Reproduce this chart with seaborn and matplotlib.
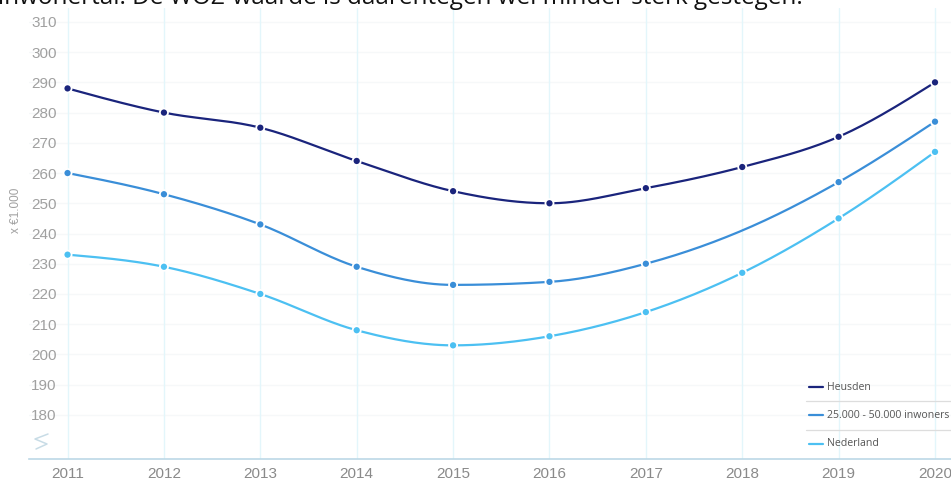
import numpy as np
import pandas as pd
import matplotlib
matplotlib.use("Agg")
import matplotlib.pyplot as plt
from matplotlib.lines import Line2D
import seaborn as sns

# WOZ-waarde (x €1.000) per jaar
years = [2011, 2012, 2013, 2014, 2015, 2016, 2017, 2018, 2019, 2020]
heusden = [288, 280, 275, 264, 254, 250, 255, 262, 272, 290]
klasse_25_50k = [260, 253, 243, 229, 223, 224, 230, 241, 257, 277]
nederland = [233, 229, 220, 208, 203, 206, 214, 227, 245, 267]
# 2018 has no point marker on the size-class series
klasse_markers = [True, True, True, True, True, True, True, False, True, True]

series_names = ["Heusden", "25.000 - 50.000 inwoners", "Nederland"]
series_colors = ["#1a247c", "#3a8ed8", "#4cc0f2"]
y_ticks = [180, 190, 200, 210, 220, 230, 240, 250, 260, 270, 280, 290, 300, 310]
header = "inwonertal. De WOZ-waarde is daarentegen wel minder sterk gestegen."


def monotone_curve(x, y, n=30):
    """Monotone cubic (Steffen) interpolation, like d3.curveMonotoneX."""
    x = np.asarray(x, float)
    y = np.asarray(y, float)
    h = np.diff(x)
    s = np.diff(y) / h
    t = np.zeros_like(y)
    for i in range(1, len(x) - 1):
        p = (s[i - 1] * h[i] + s[i] * h[i - 1]) / (h[i - 1] + h[i])
        t[i] = (np.sign(s[i - 1]) + np.sign(s[i])) * min(abs(s[i - 1]), abs(s[i]), 0.5 * abs(p))
    t[0] = (3 * s[0] - t[1]) / 2
    t[-1] = (3 * s[-1] - t[-2]) / 2
    xs, ys = [], []
    for i in range(len(x) - 1):
        u = np.linspace(0, 1, n, endpoint=(i == len(x) - 2))
        h00 = 2 * u**3 - 3 * u**2 + 1
        h10 = u**3 - 2 * u**2 + u
        h01 = -2 * u**3 + 3 * u**2
        h11 = u**3 - u**2
        xs.append(x[i] + u * h[i])
        ys.append(h00 * y[i] + h10 * h[i] * t[i] + h01 * y[i + 1] + h11 * h[i] * t[i + 1])
    return np.concatenate(xs), np.concatenate(ys)


values = [heusden, klasse_25_50k, nederland]
shown = [[True] * len(years), klasse_markers, [True] * len(years)]

curve_frames, point_frames = [], []
for name, vals, show in zip(series_names, values, shown):
    cx, cy = monotone_curve(years, vals)
    curve_frames.append(pd.DataFrame({"jaar": cx, "waarde": cy, "reeks": name}))
    pts = pd.DataFrame({"jaar": years, "waarde": vals, "reeks": name, "toon": show})
    point_frames.append(pts[pts["toon"]])
curves = pd.concat(curve_frames, ignore_index=True)
points = pd.concat(point_frames, ignore_index=True)
palette = dict(zip(series_names, series_colors))

sns.set_style("white")
plt.rcParams["font.family"] = ["Liberation Sans", "DejaVu Sans"]

fig = plt.figure(figsize=(9.51, 4.82), dpi=100)
ax = fig.add_axes([29 / 951, 1 - 459 / 482, 1 - 29 / 951, (459 - 8) / 482])

sns.lineplot(data=curves, x="jaar", y="waarde", hue="reeks", palette=palette,
             linewidth=1.6, sort=False, estimator=None, legend=False, ax=ax, zorder=3)
sns.scatterplot(data=points, x="jaar", y="waarde", hue="reeks", palette=palette,
                s=34, edgecolor="white", linewidth=1.3, legend=False, ax=ax, zorder=4)

ax.set_xlim(2010.6, 2020.166)
ax.set_ylim(165.4, 314.6)
ax.set_xticks(years)
ax.set_xticklabels([str(y) for y in years])
ax.set_yticks(y_ticks)
ax.set_yticklabels([str(v) for v in y_ticks])
ax.set_xlabel("")
ax.set_ylabel("")

for x in years:
    ax.axvline(x, color="#e3f6fb", linewidth=1.0, zorder=1)
for v in y_ticks:
    ax.axhline(v, color="#f6f8f9", linewidth=1.0, zorder=0)

for side in ["top", "right", "left"]:
    ax.spines[side].set_visible(False)
ax.spines["bottom"].set_color("#bcd8e6")
ax.spines["bottom"].set_linewidth(1.2)

ax.tick_params(axis="x", length=0, pad=5.5, labelsize=11, labelcolor="#8a8a8a")
ax.tick_params(axis="y", length=0, pad=-20, labelsize=11, labelcolor="#a0a0a0")
for lbl in ax.get_yticklabels():
    lbl.set_horizontalalignment("right")

# axis-break zigzag near the origin
zx = np.array([48, 35, 47, 36])
zy = np.array([434, 439, 444, 449])
fig.add_artist(Line2D(zx / 951, 1 - zy / 482, color="#c8dce6", linewidth=1.1))

fig.text(16 / 951, 1 - 210 / 482, "x €1.000", rotation=90, ha="center", va="center",
         fontsize=8.5, color="#a0a0a0")

# legend with separator rules
legend_rows = [387, 415, 444]
for name, color, yy in zip(series_names, series_colors, legend_rows):
    fig.add_artist(Line2D([809 / 951, 823 / 951], [1 - yy / 482] * 2, color=color, linewidth=1.6))
    fig.text(827 / 951, 1 - yy / 482, name, ha="left", va="center", fontsize=7.6,
             color="#555555", family=["Open Sans", "DejaVu Sans"])
for yy in [401, 430]:
    fig.add_artist(Line2D([806 / 951, 1.0], [1 - yy / 482] * 2, color="#dddddd", linewidth=0.9))

fig.text(-2 / 951, 1 - 4 / 482, header, ha="left", va="baseline", fontsize=17.5,
         color="#111111", family=["Open Sans", "DejaVu Sans"])

fig.savefig("out.png", dpi=100)
